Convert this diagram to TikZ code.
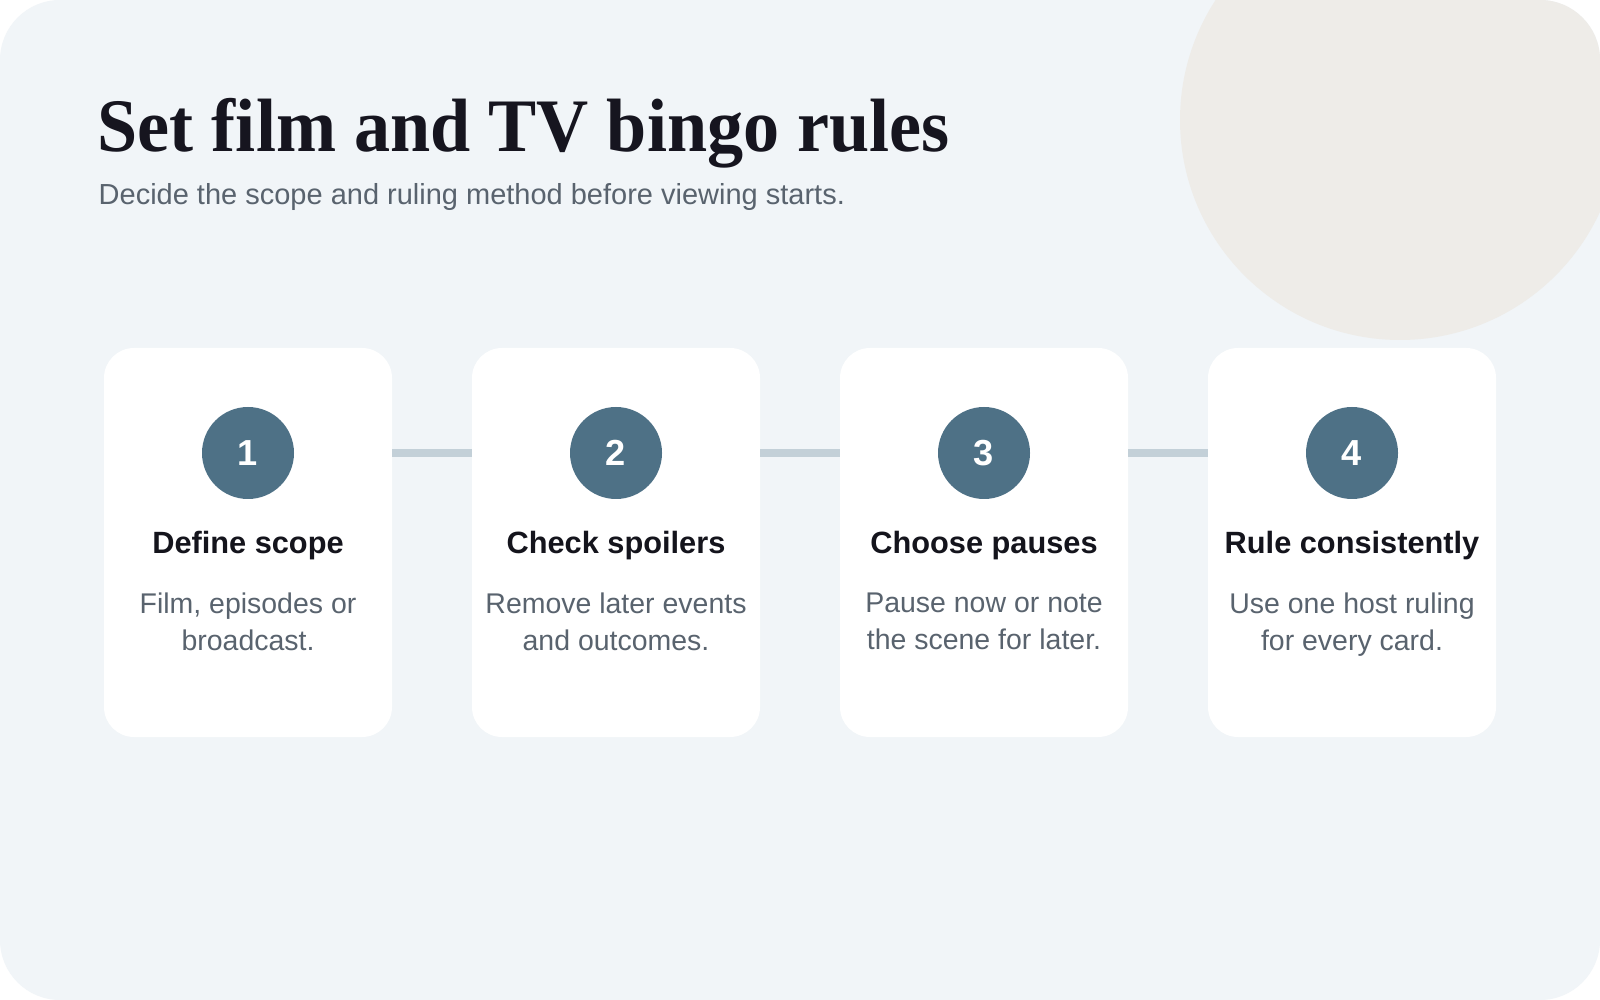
\documentclass[tikz,border=0pt]{standalone}
\usepackage{fontspec}
\setmainfont{Liberation Sans}
\newfontfamily\titlefont{Liberation Serif}
\usepackage{xcolor}
\usepackage{tikz}
\usetikzlibrary{positioning,calc}

\definecolor{panel}{HTML}{F1F5F8}
\definecolor{blob}{HTML}{EEECE8}
\definecolor{stepblue}{HTML}{4E7186}
\definecolor{linkgray}{HTML}{C3D0D8}
\definecolor{titleink}{HTML}{16151F}
\definecolor{headink}{HTML}{14141C}
\definecolor{bodyink}{HTML}{59636E}

\begin{document}
\begin{tikzpicture}[
  node distance=0.8cm,
  card/.style={rectangle, fill=white, rounded corners=0.3cm, minimum width=2.88cm, minimum height=3.89cm, inner sep=0, outer sep=0},
  stepnum/.style={circle, fill=stepblue, minimum size=0.92cm, inner sep=0, text=white, font=\fontsize{10.3}{12}\selectfont\bfseries},
  head/.style={anchor=base, inner sep=0, text=headink, font=\fontsize{8.75}{10}\selectfont\bfseries},
  body/.style={anchor=north, align=center, inner sep=0, text=bodyink, font=\fontsize{8.1}{10.5}\selectfont},
  link/.style={draw=linkgray, line width=0.08cm}
]

\useasboundingbox (0,0) rectangle (16,-10);
\fill[white] (0,0) rectangle (16,-10);
\fill[panel, rounded corners=0.6cm] (0,0) rectangle (16,-10);
\begin{scope}
  \clip[rounded corners=0.6cm] (0,0) rectangle (16,-10);
  \fill[blob] (14.0,-1.2) circle (2.2);
\end{scope}

\node[anchor=base west, inner sep=0, text=titleink, font=\titlefont\fontsize{21.5}{26}\selectfont\bfseries] (title) at (0.97,-1.52) {\scalebox{0.955}[1]{Set film and TV bingo rules}};
\node[anchor=base west, inner sep=0, text=bodyink, font=\fontsize{8.25}{10}\selectfont] (subtitle) at (0.98,-2.05) {Decide the scope and ruling method before viewing starts.};

\node[card] (c1) at (2.48,-5.425) {};
\node[card, right=of c1] (c2) {};
\node[card, right=of c2] (c3) {};
\node[card, right=of c3] (c4) {};

\node[stepnum] (n1) at ($(c1.north)+(0,-1.05)$) {1};
\node[stepnum] (n2) at ($(c2.north)+(0,-1.05)$) {2};
\node[stepnum] (n3) at ($(c3.north)+(0,-1.05)$) {3};
\node[stepnum] (n4) at ($(c4.north)+(0,-1.05)$) {4};

\draw[link] (n1 -| c1.east) -- (n2 -| c2.west);
\draw[link] (n2 -| c2.east) -- (n3 -| c3.west);
\draw[link] (n3 -| c3.east) -- (n4 -| c4.west);

\node[head] (h1) at ($(c1.north)+(0,-2.06)$) {Define scope};
\node[body] (b1) at ($(c1.north)+(0,-2.44)$) {Film, episodes or\\broadcast.};

\node[head] (h2) at ($(c2.north)+(0,-2.06)$) {Check spoilers};
\node[body] (b2) at ($(c2.north)+(0,-2.44)$) {Remove later events\\and outcomes.};

\node[head] (h3) at ($(c3.north)+(0,-2.06)$) {Choose pauses};
\node[body] (b3) at ($(c3.north)+(0,-2.44)$) {Pause now or note\\the scene for later.};

\node[head] (h4) at ($(c4.north)+(0,-2.06)$) {Rule consistently};
\node[body] (b4) at ($(c4.north)+(0,-2.44)$) {Use one host ruling\\for every card.};

\end{tikzpicture}
\end{document}
